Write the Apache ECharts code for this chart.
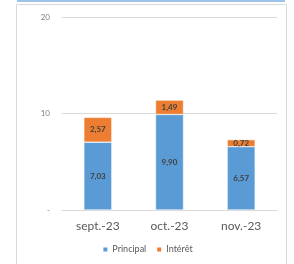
<!DOCTYPE html>
<html>
<head>
<meta charset="utf-8">
<script src="https://cdn.jsdelivr.net/npm/echarts@6/dist/echarts.min.js"></script>
<style>
  html, body { margin: 0; padding: 0; background: #fff; }
  #chart { width: 294px; height: 264px; }
</style>
</head>
<body>
<div id="chart"></div>
<script>
// données
const months = ['sept.-23', 'oct.-23', 'nov.-23'];
const principal = [7.03, 9.90, 6.57];
const interet = [2.57, 1.49, 0.72];
const yTicks = [0, 10, 20];

const fmt = v => v.toFixed(2).replace('.', ',');
const font = 'Lato, "Open Sans", sans-serif';

let chart = echarts.init(document.getElementById('chart'));
chart.setOption({
    animation: false,
    textStyle: {fontFamily: font},
    graphic: [
        {type: 'rect', shape: {x: 16.5, y: 4.5, width: 270, height: 262}, style: {fill: 'none', stroke: '#d9d9d9', lineWidth: 1}},
        {type: 'rect', shape: {x: 17, y: 0, width: 268, height: 2}, style: {fill: '#9dc3e6'}}
    ],
    grid: {left: 62, right: 17, top: 17, bottom: 54},
    legend: {
        bottom: 5,
        left: 'center',
        itemWidth: 6,
        itemHeight: 6,
        itemGap: 9,
        icon: 'rect',
        textStyle: {fontSize: 9, color: '#595959', fontFamily: font, padding: [0, 0, 0, -1]},
        data: ['Principal', 'Intérêt']
    },
    xAxis: {
        type: 'category',
        data: months,
        axisLine: {lineStyle: {color: '#d9d9d9'}},
        axisTick: {show: false},
        axisLabel: {fontSize: 12, color: '#595959', margin: 10, fontFamily: font}
    },
    yAxis: {
        type: 'value',
        min: yTicks[0],
        max: yTicks[yTicks.length - 1],
        interval: 10,
        axisLine: {show: false},
        axisTick: {show: false},
        splitLine: {lineStyle: {color: '#d9d9d9'}},
        axisLabel: {
            fontSize: 8, color: '#7f7f7f', margin: 12, fontFamily: font,
            formatter: v => v === 0 ? '-' : String(v)
        }
    },
    series: [
        {
            name: 'Principal',
            type: 'bar',
            stack: 'total',
            barWidth: 28,
            data: principal,
            itemStyle: {color: '#5b9bd5', borderColor: '#fff', borderWidth: 0.5},
            label: {show: true, position: 'inside', fontSize: 8, color: '#404040', fontWeight: 'bold', formatter: p => fmt(p.value)}
        },
        {
            name: 'Intérêt',
            type: 'bar',
            stack: 'total',
            barWidth: 28,
            data: interet,
            itemStyle: {color: '#ed7d31', borderColor: '#fff', borderWidth: 0.5},
            label: {show: true, position: 'inside', fontSize: 8, color: '#404040', fontWeight: 'bold', formatter: p => fmt(p.value)}
        }
    ]
});
window.onresize = function () {
    chart.resize();
};
</script>
</body>
</html>
